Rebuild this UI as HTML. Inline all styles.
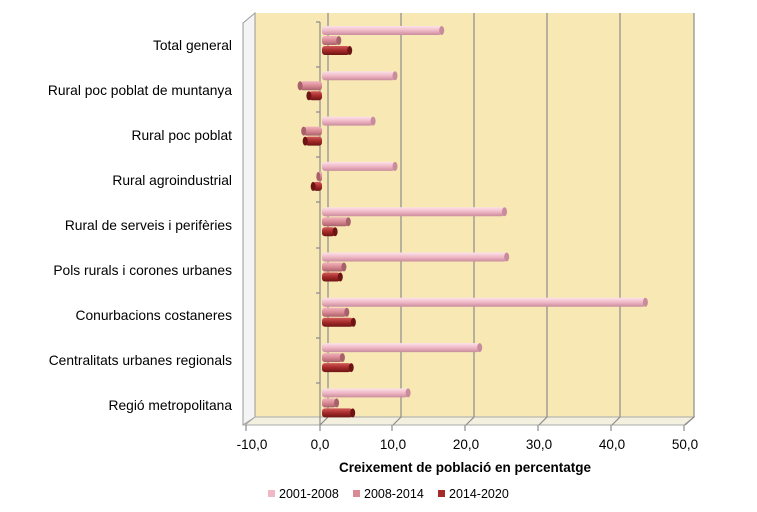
<!DOCTYPE html>
<html><head><meta charset="utf-8"><style>
html,body{margin:0;padding:0;background:#fff;width:757px;height:512px;overflow:hidden}
svg{display:block;font-family:"Liberation Sans",sans-serif}
</style></head><body>
<svg width="757" height="512" viewBox="0 0 757 512">
<defs>
<linearGradient id="g1" x1="0" y1="0" x2="0" y2="1"><stop offset="0" stop-color="#fbe3ea"/><stop offset="0.5" stop-color="#f0b8c6"/><stop offset="1" stop-color="#c98c9c"/></linearGradient>
<linearGradient id="g2" x1="0" y1="0" x2="0" y2="1"><stop offset="0" stop-color="#f2b4bc"/><stop offset="0.5" stop-color="#d98a94"/><stop offset="1" stop-color="#a8606a"/></linearGradient>
<linearGradient id="g3" x1="0" y1="0" x2="0" y2="1"><stop offset="0" stop-color="#d25a5a"/><stop offset="0.5" stop-color="#a52a2a"/><stop offset="1" stop-color="#6e1414"/></linearGradient>
</defs>
<rect x="255" y="13" width="439" height="404" fill="#f7e8b4"/>
<polygon points="243,23 255,13 255,417 243,425" fill="#f4f4f4" stroke="#999" stroke-width="1"/>
<polygon points="255,417 694,417 684,425 245,425" fill="#f3f0e0" stroke="#aaa" stroke-width="1"/>
<g stroke="#8c8c8c" stroke-width="1.2" fill="none">
<path d="M328,13V417l-8,8"/><path d="M401,13V417l-8,8"/><path d="M474,13V417l-8,8"/>
<path d="M547,13V417l-8,8"/><path d="M620,13V417l-8,8"/><path d="M694,13V417l-9,8"/>
<path d="M246,425v6M320,425v6M392,425v6M465,425v6M538,425v6M611,425v6M684,425v6"/>
<path d="M320,22V425"/>
<path d="M316,22h4M316,67h4M316,112h4M316,157h4M316,202h4M316,248h4M316,293h4M316,338h4M316,383h4"/>
</g>
<g>
<rect x="322" y="26" width="119.7" height="9" rx="3" fill="url(#g1)"/><ellipse cx="441.7" cy="30.5" rx="2.5" ry="4.5" fill="#c98c9c"/>
<rect x="322" y="36" width="16.8" height="9" rx="3" fill="url(#g2)"/><ellipse cx="338.8" cy="40.5" rx="2.5" ry="4.5" fill="#a8606a"/>
<rect x="322" y="46" width="27.7" height="9" rx="3" fill="url(#g3)"/><ellipse cx="349.7" cy="50.5" rx="2.5" ry="4.5" fill="#6e1414"/>

<rect x="322" y="71.3" width="73" height="9" rx="3" fill="url(#g1)"/><ellipse cx="395" cy="75.8" rx="2.5" ry="4.5" fill="#c98c9c"/>
<rect x="300.1" y="81.3" width="21.9" height="9" rx="3" fill="url(#g2)"/><ellipse cx="300.1" cy="85.8" rx="2.5" ry="4.5" fill="#a8606a"/>
<rect x="308.9" y="91.3" width="13.1" height="9" rx="3" fill="url(#g3)"/><ellipse cx="308.9" cy="95.8" rx="2.5" ry="4.5" fill="#6e1414"/>

<rect x="322" y="116.6" width="51.1" height="9" rx="3" fill="url(#g1)"/><ellipse cx="373.1" cy="121.1" rx="2.5" ry="4.5" fill="#c98c9c"/>
<rect x="303.7" y="126.6" width="18.3" height="9" rx="3" fill="url(#g2)"/><ellipse cx="303.7" cy="131.1" rx="2.5" ry="4.5" fill="#a8606a"/>
<rect x="305.2" y="136.6" width="16.8" height="9" rx="3" fill="url(#g3)"/><ellipse cx="305.2" cy="141.1" rx="2.5" ry="4.5" fill="#6e1414"/>

<rect x="322" y="161.9" width="73" height="9" rx="3" fill="url(#g1)"/><ellipse cx="395" cy="166.4" rx="2.5" ry="4.5" fill="#c98c9c"/>
<rect x="318.3" y="171.9" width="3.7" height="9" rx="1.5" fill="url(#g2)"/><ellipse cx="318.3" cy="176.4" rx="2" ry="4.5" fill="#a8606a"/>
<rect x="313.2" y="181.9" width="8.8" height="9" rx="3" fill="url(#g3)"/><ellipse cx="313.2" cy="186.4" rx="2.5" ry="4.5" fill="#6e1414"/>

<rect x="322" y="207.2" width="182.5" height="9" rx="3" fill="url(#g1)"/><ellipse cx="504.5" cy="211.7" rx="2.5" ry="4.5" fill="#c98c9c"/>
<rect x="322" y="217.2" width="26.3" height="9" rx="3" fill="url(#g2)"/><ellipse cx="348.3" cy="221.7" rx="2.5" ry="4.5" fill="#a8606a"/>
<rect x="322" y="227.2" width="13.1" height="9" rx="3" fill="url(#g3)"/><ellipse cx="335.1" cy="231.7" rx="2.5" ry="4.5" fill="#6e1414"/>

<rect x="322" y="252.5" width="184.7" height="9" rx="3" fill="url(#g1)"/><ellipse cx="506.7" cy="257" rx="2.5" ry="4.5" fill="#c98c9c"/>
<rect x="322" y="262.5" width="21.9" height="9" rx="3" fill="url(#g2)"/><ellipse cx="343.9" cy="267" rx="2.5" ry="4.5" fill="#a8606a"/>
<rect x="322" y="272.5" width="18.3" height="9" rx="3" fill="url(#g3)"/><ellipse cx="340.3" cy="277" rx="2.5" ry="4.5" fill="#6e1414"/>

<rect x="322" y="297.8" width="323.4" height="9" rx="3" fill="url(#g1)"/><ellipse cx="645.4" cy="302.3" rx="2.5" ry="4.5" fill="#c98c9c"/>
<rect x="322" y="307.8" width="24.8" height="9" rx="3" fill="url(#g2)"/><ellipse cx="346.8" cy="312.3" rx="2.5" ry="4.5" fill="#a8606a"/>
<rect x="322" y="317.8" width="31.4" height="9" rx="3" fill="url(#g3)"/><ellipse cx="353.4" cy="322.3" rx="2.5" ry="4.5" fill="#6e1414"/>

<rect x="322" y="343.1" width="157.7" height="9" rx="3" fill="url(#g1)"/><ellipse cx="479.7" cy="347.6" rx="2.5" ry="4.5" fill="#c98c9c"/>
<rect x="322" y="353.1" width="20.4" height="9" rx="3" fill="url(#g2)"/><ellipse cx="342.4" cy="357.6" rx="2.5" ry="4.5" fill="#a8606a"/>
<rect x="322" y="363.1" width="29.2" height="9" rx="3" fill="url(#g3)"/><ellipse cx="351.2" cy="367.6" rx="2.5" ry="4.5" fill="#6e1414"/>

<rect x="322" y="388.4" width="86.1" height="9" rx="3" fill="url(#g1)"/><ellipse cx="408.1" cy="392.9" rx="2.5" ry="4.5" fill="#c98c9c"/>
<rect x="322" y="398.4" width="14.6" height="9" rx="3" fill="url(#g2)"/><ellipse cx="336.6" cy="402.9" rx="2.5" ry="4.5" fill="#a8606a"/>
<rect x="322" y="408.4" width="30.7" height="9" rx="3" fill="url(#g3)"/><ellipse cx="352.7" cy="412.9" rx="2.5" ry="4.5" fill="#6e1414"/>
</g>
<g font-size="13.8" fill="#000" text-anchor="end">
<text x="232" y="50">Total general</text>
<text x="232" y="95">Rural poc poblat de muntanya</text>
<text x="232" y="140">Rural poc poblat</text>
<text x="232" y="185">Rural agroindustrial</text>
<text x="232" y="230">Rural de serveis i perifèries</text>
<text x="232" y="275">Pols rurals i corones urbanes</text>
<text x="232" y="320">Conurbacions costaneres</text>
<text x="232" y="365">Centralitats urbanes regionals</text>
<text x="232" y="410">Regió metropolitana</text>
</g>
<g font-size="13.5" text-anchor="middle">
<text x="252" y="449">-10,0</text><text x="320" y="449">0,0</text><text x="393" y="449">10,0</text>
<text x="466" y="449">20,0</text><text x="539" y="449">30,0</text><text x="612" y="449">40,0</text><text x="685" y="449">50,0</text>
<text x="465" y="472" font-weight="bold" font-size="13.5">Creixement de població en percentatge</text>
</g>
<g font-size="12.5">
<rect x="268" y="490" width="7" height="7" fill="#f0b8c6"/><text x="279" y="498">2001-2008</text>
<rect x="353" y="490" width="7" height="7" fill="#d98a94"/><text x="364" y="498">2008-2014</text>
<rect x="438" y="490" width="7" height="7" fill="#a52a2a"/><text x="449" y="498">2014-2020</text>
</g>
</svg>
</body></html>
